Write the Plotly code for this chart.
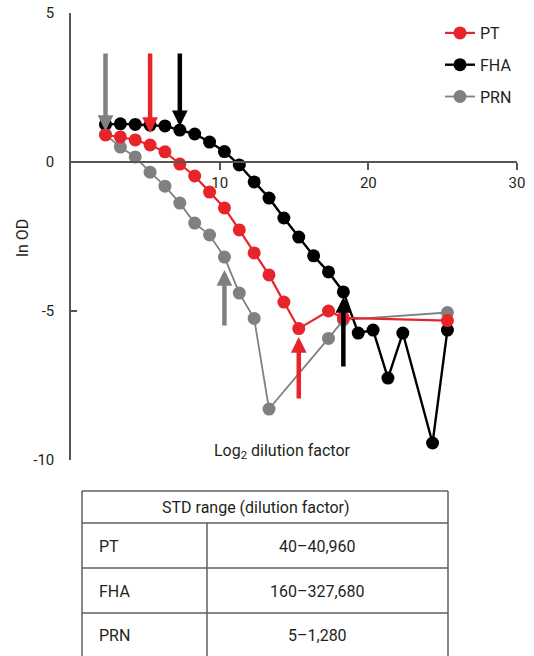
import plotly.graph_objects as go

# ---------------- data ----------------
series_names = ["PT", "FHA", "PRN"]
series_colors = ["#e8242b", "#000000", "#808083"]

pt_x = [2.32, 3.32, 4.32, 5.32, 6.32, 7.32, 8.32, 9.32, 10.32, 11.32, 12.32, 13.32, 14.32, 15.32, 17.32, 18.32, 25.32]
pt_y = [0.91, 0.84, 0.74, 0.57, 0.34, -0.07, -0.47, -1.01, -1.54, -2.28, -3.05, -3.79, -4.70, -5.59, -5.00, -5.23, -5.32]

fha_x = [2.32, 3.32, 4.32, 5.32, 6.32, 7.32, 8.32, 9.32, 10.32, 11.32, 12.32, 13.32, 14.32, 15.32, 16.32, 17.32, 18.32, 19.32, 20.32, 21.32, 22.32, 24.32, 25.32]
fha_y = [1.26, 1.28, 1.26, 1.24, 1.21, 1.07, 0.94, 0.67, 0.35, -0.10, -0.67, -1.21, -1.88, -2.52, -3.15, -3.69, -4.36, -5.74, -5.64, -7.25, -5.74, -9.43, -5.64]

prn_x = [2.32, 3.32, 4.32, 5.32, 6.32, 7.32, 8.32, 9.32, 10.32, 11.32, 12.32, 13.32, 17.32, 18.32, 25.32]
prn_y = [0.92, 0.50, 0.17, -0.34, -0.81, -1.38, -2.05, -2.45, -3.19, -4.40, -5.25, -8.29, -5.92, -5.30, -5.05]

# STD range arrows (log2 dilution factor of range ends) and ln OD of arrow tails/tips
std_low_x = [5.32, 7.32, 2.32]
std_high_x = [15.32, 18.32, 10.32]
down_tail_y = [3.69, 3.69, 3.69]
down_tip_y = [0.97, 1.20, 1.04]
up_tail_y = [-7.99, -6.91, -5.54]
up_tip_y = [-5.87, -4.53, -3.62]

table_header = "STD range (dilution factor)"
table_labels = ["PT", "FHA", "PRN"]
table_ranges = ["40–40,960", "160–327,680", "5–1,280"]

x_ticks = [10, 20, 30]
x_tick_text = ["10", "20", "30"]
y_ticks = [-10, -5, 0, 5]
y_tick_text = ["-10", "-5", "0", "5"]
x_range = [0, 30]
y_range = [-10, 5]

# ---------------- layout geometry (pixels) ----------------
W, H = 534, 656
L, R, T, B = 71, 17, 13, 196
PW, PH = W - L - R, H - T - B


def px(xp):
    return (xp - L) / PW


def py(yp):
    return (H - B - yp) / PH


FONT = "Roboto"
TXT = "#231f20"

fig = go.Figure()

order = [2, 1, 0]  # draw PRN, FHA, PT (PT on top)
data_x = [pt_x, fha_x, prn_x]
data_y = [pt_y, fha_y, prn_y]
widths = [2.2, 2.4, 1.8]
for i in order:
    fig.add_trace(go.Scatter(
        x=data_x[i], y=data_y[i], mode="lines+markers", name=series_names[i],
        line=dict(color=series_colors[i], width=widths[i]),
        marker=dict(color=series_colors[i], size=13),
        legendrank=i + 1, legendgroup=series_names[i],
    ))

# arrows
for i in range(3):
    c = series_colors[i]
    fig.add_annotation(x=std_low_x[i], y=down_tip_y[i], ax=std_low_x[i], ay=down_tail_y[i],
                       xref="x", yref="y", axref="x", ayref="y", text="", showarrow=True,
                       arrowhead=2, arrowsize=0.7, arrowwidth=4.5, arrowcolor=c)
    fig.add_annotation(x=std_high_x[i], y=up_tip_y[i], ax=std_high_x[i], ay=up_tail_y[i],
                       xref="x", yref="y", axref="x", ayref="y", text="", showarrow=True,
                       arrowhead=2, arrowsize=0.7, arrowwidth=4.5, arrowcolor=c)


def label(xp, yp, text, anchor="center", angle=0):
    fig.add_annotation(x=px(xp), y=py(yp), xref="paper", yref="paper", text=text, showarrow=False,
                       xanchor=anchor, yanchor="middle", textangle=angle,
                       font=dict(family=FONT, size=16, color=TXT))


# axis titles
label(22, 238, "ln OD", angle=-90)
label(282, 451, "Log<sub>2</sub> dilution factor")

# table
tl, tr, tc = 82, 448, 207
rows = [491, 523, 568, 613, 656]
lc = "#5f5f5f"
for yy in rows[:-1]:
    fig.add_shape(type="line", xref="paper", yref="paper", x0=px(tl), x1=px(tr), y0=py(yy), y1=py(yy),
                  line=dict(color=lc, width=1.5))
for xx, top in [(tl, rows[0]), (tr, rows[0]), (tc, rows[1])]:
    fig.add_shape(type="line", xref="paper", yref="paper", x0=px(xx), x1=px(xx), y0=py(top), y1=py(H + 2),
                  line=dict(color=lc, width=1.5))

label(256, 507, table_header)
row_centers = [546, 591, 635]
for lab, rng, yc in zip(table_labels, table_ranges, row_centers):
    label(97, yc, lab, anchor="left")
    label(317, yc, rng)

axis_color = "#555555"
fig.update_layout(
    width=W, height=H, autosize=False,
    margin=dict(l=L, r=R, t=T, b=B, autoexpand=False),
    paper_bgcolor="white", plot_bgcolor="white",
    font=dict(family=FONT, size=15, color=TXT),
    showlegend=True,
    legend=dict(x=px(440), y=py(16), xanchor="left", yanchor="top", bgcolor="rgba(0,0,0,0)",
                font=dict(family=FONT, size=16, color=TXT), itemwidth=30,
                tracegroupgap=8, traceorder="grouped"),
    xaxis=dict(range=x_range, tickvals=x_ticks, ticktext=x_tick_text, ticks="outside", ticklen=7,
               tickwidth=1.5, tickcolor=axis_color, showline=True, linecolor=axis_color, linewidth=1.5,
               showgrid=False, zeroline=False, anchor="free", automargin=False,
               position=(0 - y_range[0]) / (y_range[1] - y_range[0]),
               tickfont=dict(family=FONT, size=15, color=TXT)),
    yaxis=dict(range=y_range, tickvals=y_ticks, ticktext=y_tick_text, ticks="inside", ticklen=6,
               tickwidth=1.5, tickcolor=axis_color, showline=True, linecolor=axis_color, linewidth=1.5,
               showgrid=False, zeroline=False, ticklabelstandoff=12, automargin=False,
               tickfont=dict(family=FONT, size=15, color=TXT)),
)

fig.write_html("out.html", config={"displayModeBar": False},
               post_script="document.body.style.margin='0px';document.body.style.overflow='hidden';")
